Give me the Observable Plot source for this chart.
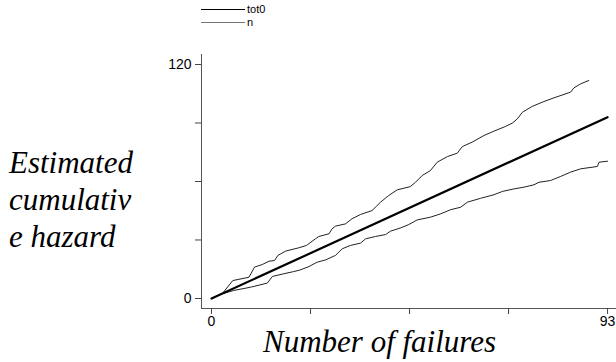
<!DOCTYPE html>
<html>
<head>
<meta charset="utf-8">
<script src="https://cdn.jsdelivr.net/npm/d3@7"></script>
<script src="https://cdn.jsdelivr.net/npm/@observablehq/plot@0.6"></script>
<style>
  html, body { margin: 0; padding: 0; background: #fff; }
  #wrap { position: relative; width: 616px; height: 362px; overflow: hidden; }
  .serif { position: absolute; font-family: "Liberation Serif", "Times New Roman", Times, Tinos, "DejaVu Serif", "Noto Serif", "Noto Serif CJK SC", serif; font-style: italic; color: #000; white-space: nowrap; }
  .leg { position: absolute; font-family: "Liberation Sans", Arial, sans-serif; font-size: 11px; line-height: 11px; color: #000; }
  .legline { position: absolute; height: 0; }
</style>
</head>
<body>
<div id="wrap"></div>
<script>
// Estimated cumulative hazard (tot0) against number of failures
const failures = [0, 93];
const hazard = [0, 93];

// Upper band
const upperX = [0, 2.5, 5.0, 8.8, 10.1, 11.9, 13.5, 14.8, 15.6, 17.4, 20.5, 22.3, 24.4, 25.2, 27.6, 28.3, 29.1, 31.5, 33.0, 35.0, 37.7, 39.7, 41.6, 43.6, 46.7, 47.9, 49.5, 51.4, 53.0, 55.4, 57.7, 58.9, 61.2, 64.0, 66.3, 69.0, 70.6, 71.8, 73.0, 75.3, 77.7, 80.4, 84.3, 85.1, 86.7, 88.6];
const upperY = [0, 2.4, 9.2, 10.9, 16.1, 17.4, 19.1, 19.5, 22.1, 24.3, 26.0, 27.2, 30.6, 31.8, 33.2, 35.7, 37.1, 38.3, 40.9, 43.1, 45.1, 49.4, 52.8, 55.7, 57.4, 59.6, 63.1, 65.6, 69.9, 72.8, 74.5, 77.9, 80.2, 83.6, 85.8, 88.2, 89.9, 92.1, 95.5, 98.5, 100.7, 102.9, 105.8, 108.0, 110.1, 111.8];

// Lower band
const lowerX = [0, 2.5, 5.2, 9.2, 13.1, 14.3, 17.0, 19.3, 20.9, 22.9, 24.8, 26.8, 29.1, 30.7, 32.6, 35.0, 36.2, 38.5, 40.9, 42.0, 44.4, 46.3, 48.3, 51.4, 53.8, 56.1, 58.5, 60.1, 63.2, 66.3, 68.3, 71.0, 73.4, 75.7, 76.9, 79.6, 82.0, 84.3, 86.7, 90.6, 91.0, 93.0];
const lowerY = [0, 2.4, 4.1, 5.8, 7.9, 11.3, 12.7, 13.8, 14.7, 16.4, 18.6, 19.8, 22.1, 25.5, 27.2, 28.4, 30.6, 31.8, 32.8, 34.5, 36.2, 37.9, 40.3, 41.7, 43.4, 45.5, 46.8, 49.4, 51.4, 53.2, 54.9, 56.2, 57.1, 58.3, 59.6, 60.5, 62.6, 64.8, 66.5, 67.7, 69.9, 70.4];

const xTicks = [0, 23.25, 46.5, 69.75, 93];
const xTickLabels = ["0", "", "", "", "93"];
const yTicks = [0, 30, 60, 90, 120];
const yTickLabels = ["0", "", "", "", "120"];

const legendLabels = ["tot0", "n"];

const xDomain = [-2.35, 95.1];
const yDomain = [-5.13, 125.13];

const est = failures.map((f, i) => ({x: f, y: hazard[i]}));
const upper = upperX.map((f, i) => ({x: f, y: upperY[i]}));
const lower = lowerX.map((f, i) => ({x: f, y: lowerY[i]}));

const chart = Plot.plot({
  width: 616,
  height: 362,
  marginLeft: 201,
  marginRight: 0,
  marginTop: 54,
  marginBottom: 54,
  x: {domain: xDomain},
  y: {domain: yDomain},
  style: {fontFamily: "'Liberation Sans', Arial, sans-serif", fontSize: "14px", color: "#000", background: "#fff"},
  marks: [
    Plot.ruleX([xDomain[0]], {y1: yDomain[0], y2: yDomain[1], stroke: "#555", strokeWidth: 1}),
    Plot.ruleY([yDomain[0]], {x1: xDomain[0], x2: xDomain[1], stroke: "#555", strokeWidth: 1}),
    Plot.axisY({ticks: yTicks, tickFormat: (d) => yTickLabels[yTicks.indexOf(d)], tickSize: 6, tickPadding: 4, stroke: "#444", fontSize: 14, label: null}),
    Plot.axisX({ticks: xTicks, tickFormat: (d) => xTickLabels[xTicks.indexOf(d)], tickSize: 6, tickPadding: 2, stroke: "#444", fontSize: 14, label: null}),
    Plot.line(upper, {x: "x", y: "y", stroke: "#222", strokeWidth: 1}),
    Plot.line(lower, {x: "x", y: "y", stroke: "#222", strokeWidth: 1}),
    Plot.line(est, {x: "x", y: "y", stroke: "#000", strokeWidth: 2.2})
  ]
});

const wrap = document.getElementById("wrap");
wrap.appendChild(chart);

// Legend
const legendStyles = [{stroke: "#000", w: 1}, {stroke: "#777", w: 1.5}];
legendLabels.forEach((lab, i) => {
  const top = 9 + i * 13;
  const ln = document.createElement("div");
  ln.className = "legline";
  ln.style.left = "201px";
  ln.style.width = "44px";
  ln.style.top = top + "px";
  ln.style.borderTop = legendStyles[i].w + "px solid " + legendStyles[i].stroke;
  wrap.appendChild(ln);
  const t = document.createElement("div");
  t.className = "leg";
  t.style.left = "247px";
  t.style.top = (top - 5) + "px";
  t.textContent = lab;
  wrap.appendChild(t);
});

// Axis titles
const yTitleLines = ["Estimated", "cumulativ", "e hazard"];
const yt = document.createElement("div");
yt.className = "serif";
yt.style.left = "9px";
yt.style.top = "144px";
yt.style.fontSize = "31px";
yt.style.lineHeight = "37px";
yt.innerHTML = yTitleLines.join("<br>");
wrap.appendChild(yt);

const xt = document.createElement("div");
xt.className = "serif";
xt.style.left = "263px";
xt.style.top = "325px";
xt.style.fontSize = "31px";
xt.style.lineHeight = "34px";
xt.textContent = "Number of failures";
wrap.appendChild(xt);
</script>
</body>
</html>
